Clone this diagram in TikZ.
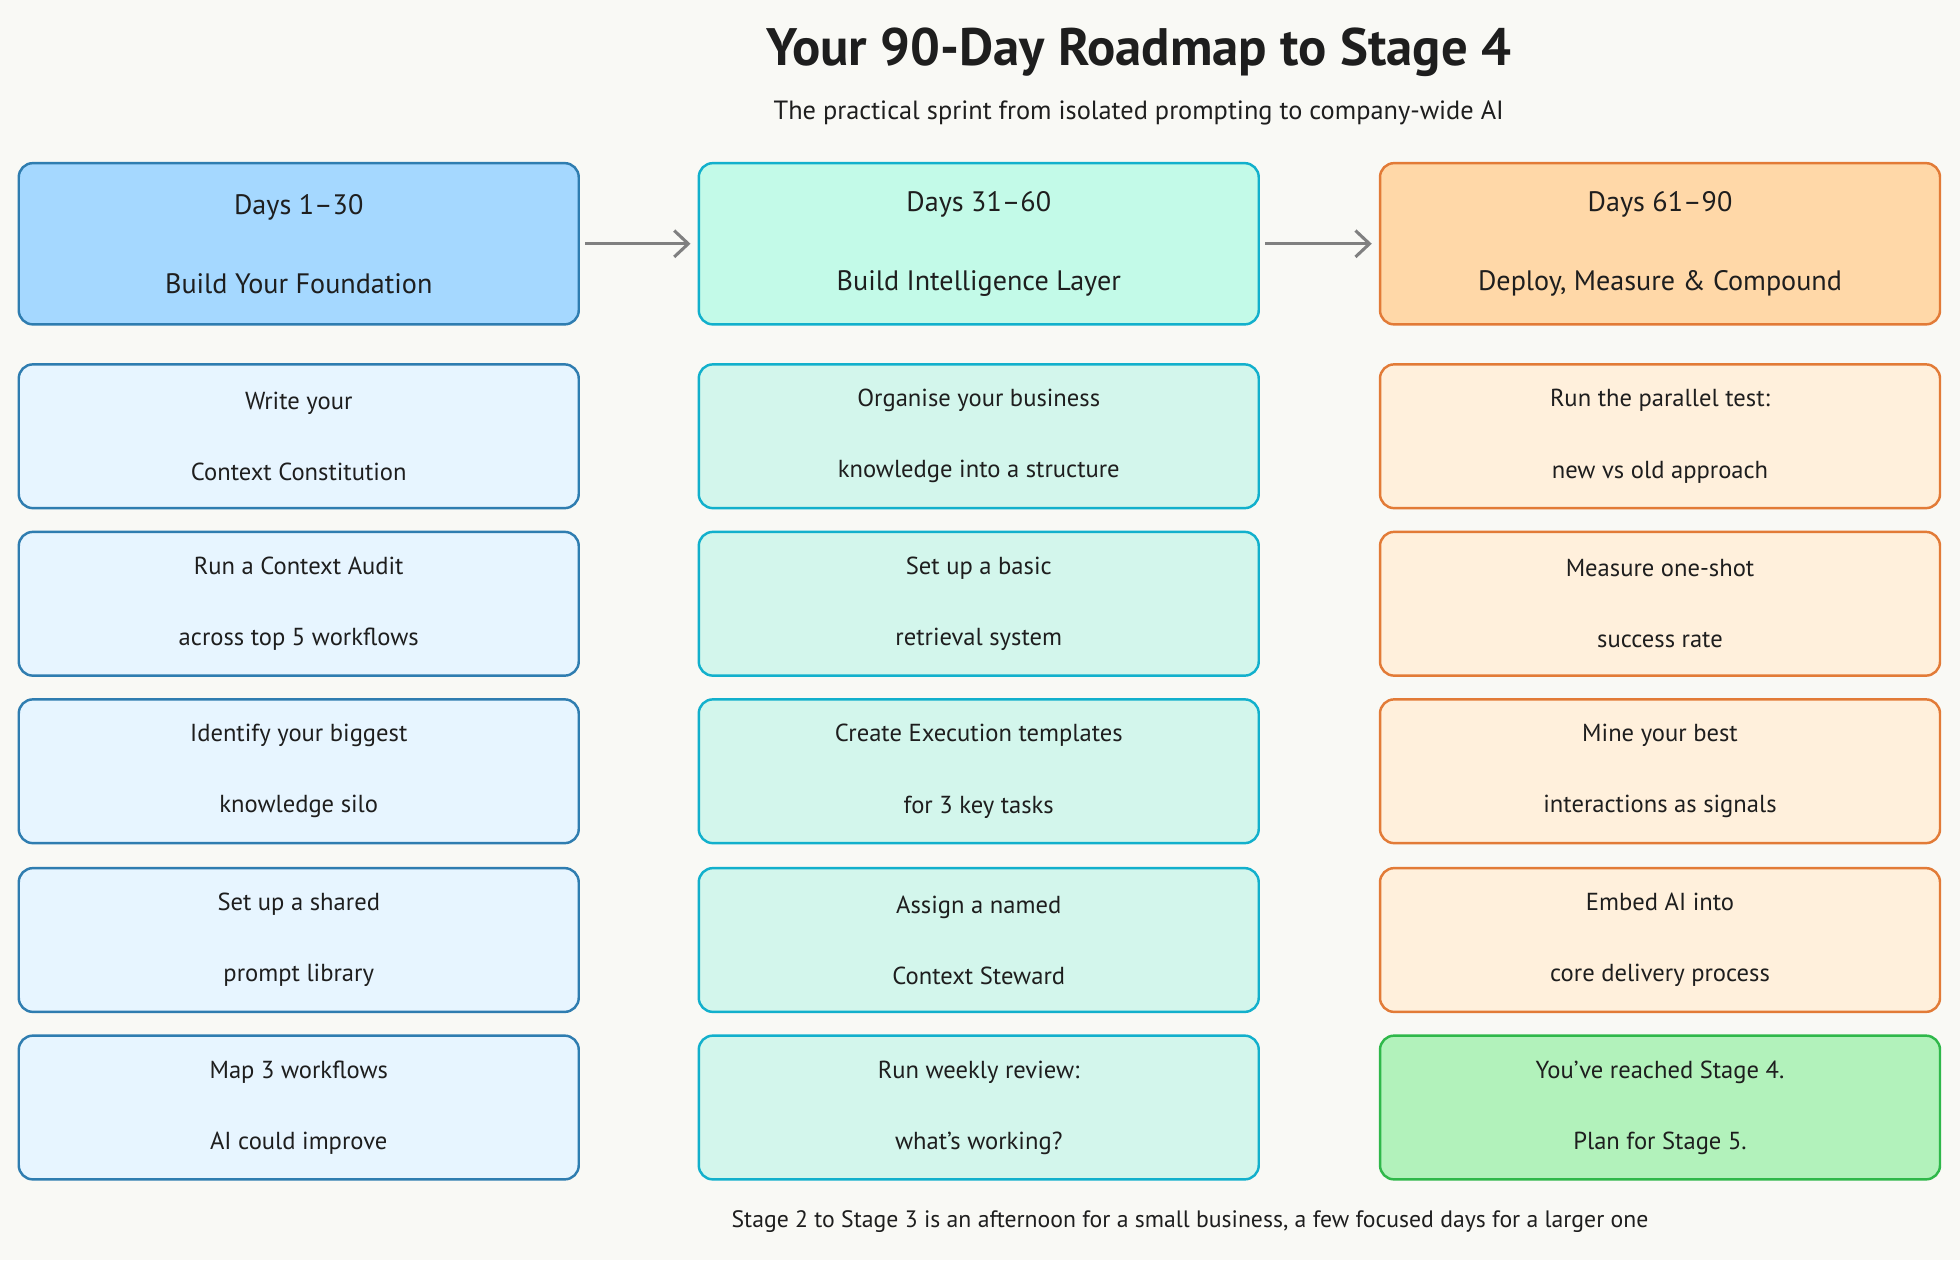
\documentclass[tikz,border=0pt]{standalone}
\usepackage{fontspec}
\setmainfont{PT Sans}
\usetikzlibrary{arrows.meta}
\definecolor{bg}{HTML}{F9F9F5}
\definecolor{hA}{HTML}{A5D8FF}\definecolor{sA}{HTML}{2F7DB0}\definecolor{tA}{HTML}{E7F5FF}
\definecolor{hB}{HTML}{C3FAE8}\definecolor{sB}{HTML}{12B0CC}\definecolor{tB}{HTML}{D3F6EC}
\definecolor{hC}{HTML}{FFD8A8}\definecolor{sC}{HTML}{E27B37}\definecolor{tC}{HTML}{FFF0DC}
\definecolor{hG}{HTML}{B2F2BB}\definecolor{sG}{HTML}{2FB84A}
\definecolor{ink}{HTML}{1E1E1E}
\tikzset{
 x=0.05cm,y=-0.05cm,
 card/.style={draw, line width=2.8pt, rounded corners=16pt, minimum width=22.4cm, align=center, text=ink},
 head/.style={card, minimum height=6.45cm, font=\fontsize{32}{90}\selectfont},
 task/.style={card, minimum height=5.75cm, font=\fontsize{28}{81}\selectfont},
 flow/.style={draw=gray, line width=3.5pt, shorten <=6pt, shorten >=8pt, -{Straight Barb[length=16pt,width=30pt]}}
}
\begin{document}
\begin{tikzpicture}
\fill[bg] (0,0) rectangle (1568,1008);
\node[font=\fontsize{60}{66}\selectfont\bfseries, text=ink] (title) at (911,42) {Your 90-Day Roadmap to Stage 4};
\node[font=\fontsize{30}{34}\selectfont, text=ink] (sub) at (911,90) {The practical sprint from isolated prompting to company-wide AI};
\node[font=\fontsize{27}{30}\selectfont, text=ink] (foot) at (952,977) {Stage 2 to Stage 3 is an afternoon for a small business, a few focused days for a larger one};

\node[head, fill=hA, draw=sA] (hA) at (239,195) {Days 1--30\\Build Your Foundation};
\node[head, fill=hB, draw=sB] (hB) at (783,195) {Days 31--60\\Build Intelligence Layer};
\node[head, fill=hC, draw=sC] (hC) at (1328,195) {Days 61--90\\Deploy, Measure \& Compound};
\draw[flow] (hA) -- (hB);
\draw[flow] (hB) -- (hC);

\foreach \y/\n/\a/\b/\c in {
 349/1/{Write your\\Context Constitution}/{Organise your business\\knowledge into a structure}/{Run the parallel test:\\new vs old approach},
 483/2/{Run a Context Audit\\across top 5 workflows}/{Set up a basic\\retrieval system}/{Measure one-shot\\success rate},
 617/3/{Identify your biggest\\knowledge silo}/{Create Execution templates\\for 3 key tasks}/{Mine your best\\interactions as signals},
 752/4/{Set up a shared\\prompt library}/{Assign a named\\Context Steward}/{Embed AI into\\core delivery process}}{
 \node[task, fill=tA, draw=sA] (a\n) at (239,\y) {\a};
 \node[task, fill=tB, draw=sB] (b\n) at (783,\y) {\b};
 \node[task, fill=tC, draw=sC] (c\n) at (1328,\y) {\c};
}
\node[task, fill=tA, draw=sA] (a5) at (239,886) {Map 3 workflows\\AI could improve};
\node[task, fill=tB, draw=sB] (b5) at (783,886) {Run weekly review:\\what's working?};
\node[task, fill=hG, draw=sG] (c5) at (1328,886) {You've reached Stage 4.\\Plan for Stage 5.};
\end{tikzpicture}
\end{document}
